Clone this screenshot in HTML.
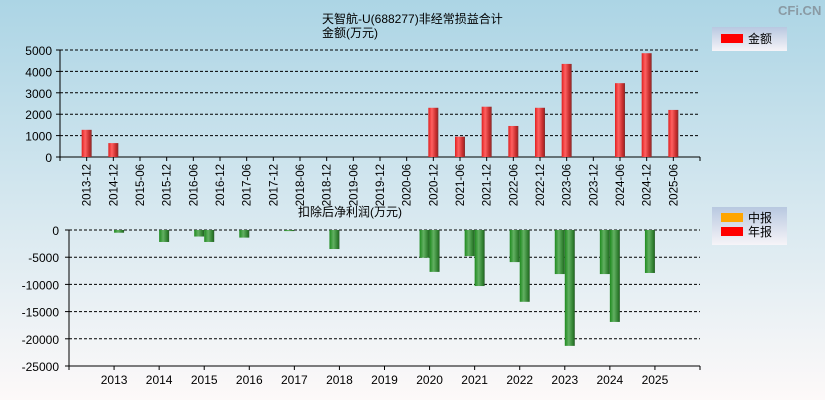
<!DOCTYPE html>
<html><head><meta charset="utf-8"><style>
body{margin:0;width:825px;height:400px;overflow:hidden}
svg{display:block;font-family:"Liberation Sans","Noto Sans CJK SC",sans-serif}
</style></head><body>
<svg id="c" width="825" height="400">
<defs>
<linearGradient id="bg" x1="0" y1="0" x2="0" y2="1"><stop offset="0" stop-color="#acd5e5"/><stop offset="1" stop-color="#fdf9f9"/></linearGradient>
<linearGradient id="rb" x1="0" x2="1"><stop offset="0" stop-color="#e02020"/><stop offset="0.35" stop-color="#ff6060"/><stop offset="0.8" stop-color="#c02828"/><stop offset="1" stop-color="#803030"/></linearGradient>
<linearGradient id="gb" x1="0" x2="1"><stop offset="0" stop-color="#1e8a1e"/><stop offset="0.4" stop-color="#62b062"/><stop offset="0.85" stop-color="#2a7a2a"/><stop offset="1" stop-color="#2a5a2a"/></linearGradient>
<linearGradient id="lg" x1="0" y1="0" x2="0" y2="1"><stop offset="0" stop-color="#b8c8e0"/><stop offset="1" stop-color="#f6f4f8"/></linearGradient>
</defs>
<rect width="825" height="400" fill="url(#bg)"/>
<text x="778" y="15" font-size="13" font-weight="bold" fill="#8a9aa4">CFi.CN</text>
<text x="322" y="23" font-size="12">天智航-U(688277)非经常损益合计</text>
<text x="322" y="37" font-size="12">金额(万元)</text>
<text x="298" y="216" font-size="12">扣除后净利润(万元)</text>
<g>
<rect x="712" y="27" width="75" height="24" fill="url(#lg)"/>
<rect x="721" y="34" width="22" height="9" fill="#f00"/>
<text x="748" y="43" font-size="12">金额</text></g>
<g>
<rect x="712" y="207" width="75" height="38" fill="url(#lg)"/>
<rect x="721" y="213" width="22" height="9" fill="#ffa500"/>
<text x="748" y="222" font-size="12">中报</text>
<rect x="721" y="227" width="22" height="9" fill="#f00"/>
<text x="748" y="236" font-size="12">年报</text></g>
<g id="top"></g><g id="bot"></g>
</svg>
<script>
const topCats=["2013-12","2014-12","2015-06","2015-12","2016-06","2016-12","2017-06","2017-12","2018-06","2018-12","2019-06","2019-12","2020-06","2020-12","2021-06","2021-12","2022-06","2022-12","2023-06","2023-12","2024-06","2024-12","2025-06"];
const topVals=[1270,650,0,0,0,0,0,0,0,0,0,0,0,2300,950,2350,1450,2300,4350,0,3450,4850,2200];
const topTicks=[0,1000,2000,3000,4000,5000];
const years=["2013","2014","2015","2016","2017","2018","2019","2020","2021","2022","2023","2024","2025"];
const halfVals=[null,null,-1200,-1400,-200,-3500,null,-5100,-4800,-5900,-8100,-8100,-7900];
const annualVals=[-500,-2200,-2200,null,null,null,null,-7700,-10300,-13200,-21300,-16900,null];
const botTicks=[0,-5000,-10000,-15000,-20000,-25000];
const NS="http://www.w3.org/2000/svg";
function mk(p,t,a,txt){const e=document.createElementNS(NS,t);for(const k in a)e.setAttribute(k,a[k]);if(txt!=null)e.textContent=txt;p.appendChild(e);return e;}
// top chart
const T=document.getElementById('top');
const tx=i=>60+(i+1)*640/24, ty=v=>157-v/5000*107;
topTicks.forEach(v=>{const y=ty(v);
 if(v>0){const l=mk(T,'line',{x1:60,x2:700,y1:y,y2:y,stroke:'#000','stroke-dasharray':'3,2'});}
 mk(T,'line',{x1:56,x2:60,y1:y,y2:y,stroke:'#000'});
 const t=mk(T,'text',{x:52,y:y+5,'font-size':12,'text-anchor':'end'},v);
 });
mk(T,'line',{x1:60,x2:60,y1:50,y2:161,stroke:'#000'});
mk(T,'line',{x1:60,x2:700,y1:157,y2:157,stroke:'#000'});
mk(T,'line',{x1:700,x2:700,y1:157,y2:161,stroke:'#000'});
topCats.forEach((c,i)=>{const x=tx(i);
 mk(T,'line',{x1:x,x2:x,y1:157,y2:161,stroke:'#000'});
 const t=mk(T,'text',{x:0,y:0,'font-size':11.5,'text-anchor':'end',transform:`translate(${x+4},164) rotate(-90)`},c);
 
 const v=topVals[i];if(v>0){const y=ty(v);
  const r=mk(T,'rect',{x:x-5,y:y,width:10,height:157-y,fill:'url(#rb)'});
  }});
// bottom chart
const B=document.getElementById('bot');
const bx=i=>69+(i+1)*631/14, by=v=>230+(-v)/25000*136;
botTicks.forEach(v=>{const y=by(v);
 if(v>-25000){const l=mk(B,'line',{x1:69,x2:700,y1:y,y2:y,stroke:'#000','stroke-dasharray':'3,2'});}
 mk(B,'line',{x1:65,x2:69,y1:y,y2:y,stroke:'#000'});
 const t=mk(B,'text',{x:59,y:y+5,'font-size':12,'text-anchor':'end'},v);
 });
mk(B,'line',{x1:69,x2:69,y1:230,y2:370,stroke:'#000'});
mk(B,'line',{x1:69,x2:700,y1:366,y2:366,stroke:'#000'});
mk(B,'line',{x1:700,x2:700,y1:366,y2:370,stroke:'#000'});
years.forEach((yr,i)=>{const x=bx(i);
 mk(B,'line',{x1:x,x2:x,y1:366,y2:370,stroke:'#000'});
 const t=mk(B,'text',{x:x,y:384,'font-size':12,'text-anchor':'middle'},yr);
 
 const h=halfVals[i];if(h!=null){const r=mk(B,'rect',{x:x-10,y:230,width:10,height:by(h)-230,fill:'url(#gb)'});
  }
 const a=annualVals[i];if(a!=null){const r=mk(B,'rect',{x:x,y:230,width:10,height:by(a)-230,fill:'url(#gb)'});
  }});
</script>
</body></html>
